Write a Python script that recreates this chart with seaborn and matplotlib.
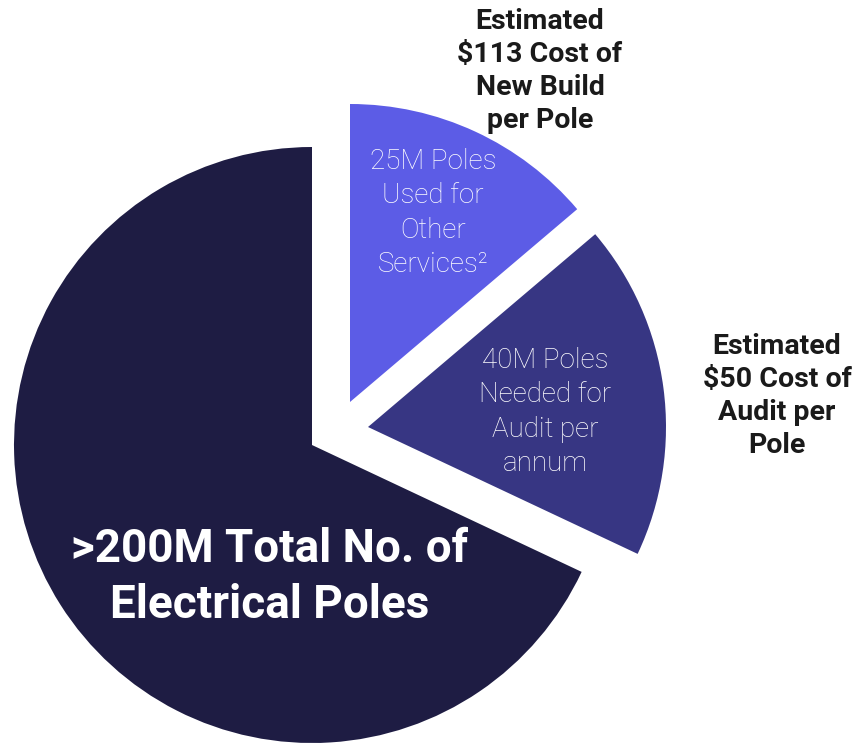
import matplotlib
matplotlib.use("Agg")
import matplotlib.pyplot as plt
import seaborn as sns

# slice shares of the full circle, as drawn in the picture (percent)
slice_names = ["Total electrical poles", "Needed for audit", "Used for other services"]
slice_shares = [68.0, 18.2, 13.8]
slice_labels = [
    ">200M Total No. of\nElectrical Poles",
    "40M Poles\nNeeded for\nAudit per\nannum",
    "25M Poles\nUsed for\nOther\nServices²",
]
cost_labels = [
    "Estimated\n\\$50 Cost of\nAudit per\nPole",
    "Estimated\n\\$113 Cost of\nNew Build\nper Pole",
]
slice_colors = ["#1E1C43", "#373683", "#5C5CE6"]

sns.set_theme(style="white")
plt.rcParams["font.family"] = ["Roboto", "DejaVu Sans"]

W, H = 859, 746
fig = plt.figure(figsize=(W / 100, H / 100), dpi=100)
ax = fig.add_axes([0, 0, 1, 1])

cx, cy, r = 312, H - 445, 298
wedges, _ = ax.pie(slice_shares, colors=slice_colors, startangle=90,
                   counterclock=True, radius=r, center=(cx, cy),
                   wedgeprops=dict(linewidth=0))

# pull the two small slices out of the pie
offsets = [(0, 0), (56, 18), (38, 43)]
for w, (dx, dy) in zip(wedges, offsets):
    w.set_center((cx + dx, cy + dy))

ax.set_xlim(0, W)
ax.set_ylim(0, H)
ax.set_aspect("equal")
ax.axis("off")

# labels inside the slices
ax.text(270, H - 577, slice_labels[0], color="white", fontsize=33, fontweight="bold",
        ha="center", va="center", linespacing=1.32)
ax.text(545, H - 412, slice_labels[1], color="white", fontsize=20, fontweight="light",
        ha="center", va="center", linespacing=1.36)
ax.text(433, H - 213, slice_labels[2], color="white", fontsize=20, fontweight="light",
        ha="center", va="center", linespacing=1.36)

# cost notes outside
ax.text(777, H - 396, cost_labels[0], color="#1a1a1a", fontsize=20.5, fontweight="bold",
        ha="center", va="center", linespacing=1.3)
ax.text(540, H - 71, cost_labels[1], color="#1a1a1a", fontsize=20.5, fontweight="bold",
        ha="center", va="center", linespacing=1.3)

fig.savefig("out.png", dpi=100)
